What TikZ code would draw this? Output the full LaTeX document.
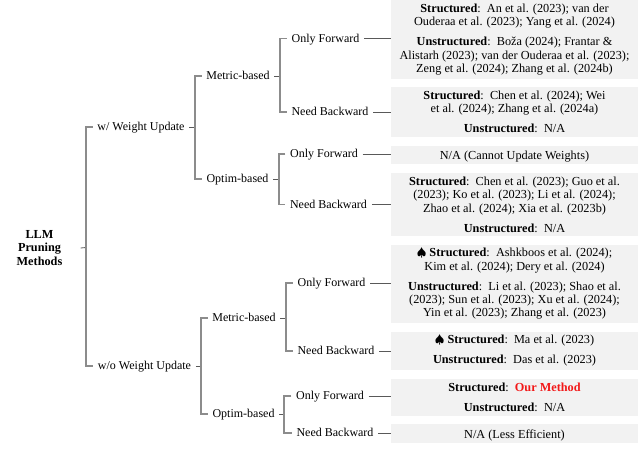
\documentclass[tikz,border=0pt]{standalone}
\usepackage{fontspec}
\setmainfont{Liberation Serif}
\usepackage{xcolor}
\definecolor{boxgray}{gray}{0.95}
\definecolor{ourred}{rgb}{0.95,0.1,0.1}
\tikzset{
  lbl/.style={inner sep=3.4pt, text height=7.4pt, text depth=2pt, font=\fontsize{9pt}{10pt}\selectfont},
  leafbox/.style={fill=boxgray, inner sep=0pt, minimum width=185.25pt, align=center, font=\fontsize{9.2pt}{10pt}\selectfont,
    execute at begin node={\rule{0pt}{9pt}}},
  branch/.style={draw=black!45, line width=0.9pt},
  tie/.style={draw=black!65, line width=0.6pt}
}
\newcommand{\strc}{\textbf{Structured}:~~}
\newcommand{\unstr}{\textbf{Unstructured}:~~}
\begin{document}
\begin{tikzpicture}[x=0.75pt,y=-0.75pt]
\useasboundingbox (0,0) rectangle (640,457);

% root and first split
\node[inner sep=3pt,align=center,font=\fontsize{9.2pt}{10pt}\selectfont\bfseries] (root) at (39.5,248) {LLM\\Pruning\\Methods};
\node[lbl] (upd) at (141,127) {w/ Weight Update};
\node[lbl] (noupd) at (144.5,366) {w/o Weight Update};
\coordinate (j0) at (86,247.5);
\draw[tie] (root.east) ++(14,0) -- (j0);
\draw[branch] (upd.west) -| (j0) |- (noupd.west);

% w/ weight update
\node[lbl] (met1) at (238,76) {Metric-based};
\node[lbl] (opt1) at (237.5,179) {Optim-based};
\coordinate (j1) at (195,127);
\draw[tie] (upd.east) -- (j1);
\draw[branch] (met1.west) -| (j1) |- (opt1.west);

\node[lbl] (of1) at (325.5,38.5) {Only Forward};
\node[lbl] (nb1) at (330,112) {Need Backward};
\coordinate (j2) at (280,76);
\draw[tie] (met1.east) -- (j2);
\draw[branch] (of1.west) -| (j2) |- (nb1.west);

\node[lbl] (of2) at (324,154) {Only Forward};
\node[lbl] (nb2) at (328.5,204.5) {Need Backward};
\coordinate (j3) at (279,179);
\draw[tie] (opt1.east) -- (j3);
\draw[branch] (of2.west) -| (j3) |- (nb2.west);

% w/o weight update
\node[lbl] (met2) at (244,318) {Metric-based};
\node[lbl] (opt2) at (243.5,414) {Optim-based};
\coordinate (j4) at (201,366);
\draw[tie] (noupd.east) -- (j4);
\draw[branch] (met2.west) -| (j4) |- (opt2.west);

\node[lbl] (of3) at (331.5,283) {Only Forward};
\node[lbl] (nb3) at (336,351) {Need Backward};
\coordinate (j5) at (286,318);
\draw[tie] (met2.east) -- (j5);
\draw[branch] (of3.west) -| (j5) |- (nb3.west);

\node[lbl] (of4) at (330,396) {Only Forward};
\node[lbl] (nb4) at (335,433) {Need Backward};
\coordinate (j6) at (284,414);
\draw[tie] (opt2.east) -- (j6);
\draw[branch] (of4.west) -| (j6) |- (nb4.west);

% leaf boxes
\node[leafbox,minimum height=59.25pt] (b1) at (514.5,39.5) {\strc An et al. (2023); van der\\Ouderaa et al. (2023); Yang et al. (2024)\\[5pt]
  \unstr Boža (2024); Frantar \&\\Alistarh (2023); van der Ouderaa et al. (2023);\\Zeng et al. (2024); Zhang et al. (2024b)};
\node[leafbox,minimum height=37.5pt] (b2) at (514.5,112) {\strc Chen et al. (2024); Wei\\et al. (2024); Zhang et al. (2024a)\\[5pt]
  \unstr N/A};
\node[leafbox,minimum height=13.5pt] (b3) at (514.5,155) {N/A (Cannot Update Weights)};
\node[leafbox,minimum height=47.25pt] (b4) at (514.5,204.5) {\strc Chen et al. (2023); Guo et al.\\(2023); Ko et al. (2023); Li et al. (2024);\\Zhao et al. (2024); Xia et al. (2023b)\\[5pt]
  \unstr N/A};
\node[leafbox,minimum height=58.5pt] (b5) at (514.5,284) {$\spadesuit$ \strc Ashkboos et al. (2024);\\Kim et al. (2024); Dery et al. (2024)\\[5pt]
  \unstr Li et al. (2023); Shao et al.\\(2023); Sun et al. (2023); Xu et al. (2024);\\Yin et al. (2023); Zhang et al. (2023)};
\node[leafbox,minimum height=28.5pt] (b6) at (514.5,351) {$\spadesuit$ \strc Ma et al. (2023)\\[5pt]
  \unstr Das et al. (2023)};
\node[leafbox,minimum height=27.75pt] (b7) at (514.5,397.5) {\strc \textcolor{ourred}{\textbf{Our Method}}\\[5pt]
  \unstr N/A};
\node[leafbox,minimum height=14.25pt] (b8) at (514.5,433.5) {N/A (Less Efficient)};

\draw[tie] (of1.east) -- (b1.west |- of1.east);
\draw[tie] (nb1.east) -- (b2.west |- nb1.east);
\draw[tie] (of2.east) -- (b3.west |- of2.east);
\draw[tie] (nb2.east) -- (b4.west |- nb2.east);
\draw[tie] (of3.east) -- (b5.west |- of3.east);
\draw[tie] (nb3.east) -- (b6.west |- nb3.east);
\draw[tie] (of4.east) -- (b7.west |- of4.east);
\draw[tie] (nb4.east) -- (b8.west |- nb4.east);
\end{tikzpicture}
\end{document}
